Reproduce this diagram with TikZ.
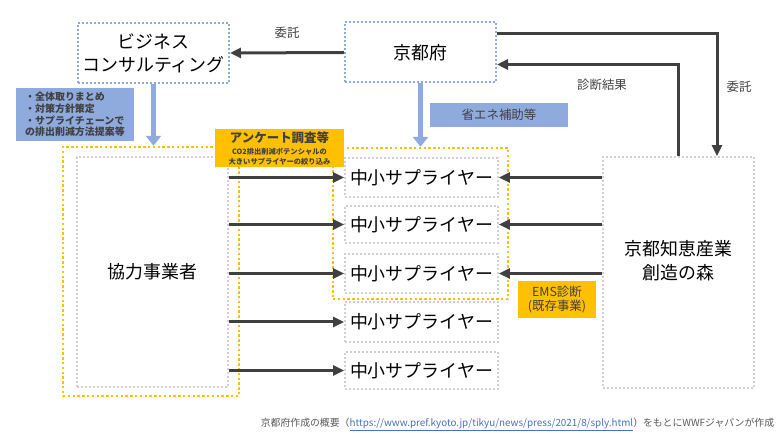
\documentclass[tikz,border=0pt]{standalone}
\usepackage{fontspec}
\setmainfont{Noto Sans CJK JP}
\usetikzlibrary{arrows.meta}
\definecolor{dotblue}{HTML}{8FAADC}
\definecolor{fillblue}{HTML}{8FAADC}
\definecolor{ylw}{HTML}{FFC000}
\definecolor{gry}{HTML}{D0D0D0}
\definecolor{dark}{HTML}{404040}
\definecolor{foot}{HTML}{595959}
\definecolor{urlblue}{HTML}{4472C4}
\begin{document}
\begin{tikzpicture}[x=1bp,y=-1bp,
  bluebox/.style={draw=dotblue, line width=2bp, dash pattern=on 2bp off 2bp,
    minimum width=151bp, minimum height=60bp, inner sep=0pt, align=center,
    font=\fontsize{18}{23}\selectfont},
  graybox/.style={draw=gry, line width=1.8bp, dash pattern=on 2bp off 2bp,
    minimum width=151bp, inner sep=0pt, align=center,
    font=\fontsize{18}{23}\selectfont},
  supbox/.style={graybox, minimum width=153bp},
  boxtext/.style={inner sep=0pt, align=center, font=\fontsize{18}{24}\selectfont},
  yregion/.style={draw=ylw, line width=2.4bp, dash pattern=on 2.4bp off 2.4bp, inner sep=0pt},
  bluelabel/.style={fill=fillblue, inner sep=0pt, text=dark},
  ylabel/.style={fill=ylw, inner sep=0pt, text=dark, align=center},
  darkarrow/.style={draw=dark, line width=3bp, -{Triangle[width=10bp,length=11bp]}},
  bluearrow/.style={draw=fillblue, line width=5bp, -{Triangle[width=15bp,length=10bp]}},
  smalltext/.style={text=dark, font=\fontsize{12.5}{15}\selectfont, inner sep=0pt}
]
\useasboundingbox (0,0) rectangle (780,438);

% yellow regions
\node[yregion, minimum width=176bp, minimum height=249bp] (yl) at (151,271.5) {};
\node[yregion, minimum width=175bp, minimum height=151bp] (yr) at (420.5,223.5) {};

% main boxes
\node[bluebox] (biz) at (153.5,53) {ビジネス\\コンサルティング};
\node[bluebox] (fu) at (420.5,52.5) {京都府};
\node[graybox, minimum height=230bp] (kyo) at (152.5,272) {協力事業者};
\node[graybox, minimum height=231bp] (mori) at (678.5,272.5) {};
\node[boxtext] (moritext) at ([yshift=12bp]mori.center) {京都知恵産業\\創造の森};

\node[supbox, minimum height=39bp] (s1) at (421.5,177.5) {中小サプライヤー};
\node[supbox, minimum height=37bp] (s2) at (421.5,224.5) {中小サプライヤー};
\node[supbox, minimum height=39bp] (s3) at (421.5,273.5) {中小サプライヤー};
\node[supbox, minimum height=40bp] (s4) at (421.5,322) {中小サプライヤー};
\node[supbox, minimum height=37bp] (s5) at (421.5,370.5) {中小サプライヤー};

% labels boxes
\node[bluelabel, minimum width=118bp, minimum height=53bp, align=left,
  font=\bfseries\fontsize{10}{11.8}\selectfont] (lb) at (75,114.5)
  {・全体取りまとめ\\・対策方針策定\\・サプライチェーンで\\の排出削減方法提案等};
\node[bluelabel, minimum width=138bp, minimum height=24bp,
  font=\fontsize{12.5}{15}\selectfont] (hojo) at (499,115) {省エネ補助等};
\node[ylabel, minimum width=129bp, minimum height=38bp,
  font=\bfseries\fontsize{7.3}{10}\selectfont] (enq) at (279.5,148)
  {{\fontsize{12.5}{14}\selectfont アンケート調査等}\\[2bp]CO2排出削減ポテンシャルの\\大きいサプライヤーの絞り込み};
\node[ylabel, minimum width=78bp, minimum height=37bp,
  font=\fontsize{12.5}{15}\selectfont] (ems) at (557,299.5) {EMS診断\\(既存事業)};

% arrows
\draw[darkarrow] (fu.west) -- (biz.east);
\node[smalltext] (t1) at (287,33) {委託};
\draw[darkarrow] ([yshift=-12bp]fu.north east) -| ([xshift=38.5bp]mori.north);
\node[smalltext] (t2) at (739,87) {委託};
\draw[darkarrow] ([xshift=-0.5bp]mori.north) |- ([yshift=-43bp]fu.north east);
\node[smalltext] (t3) at (602,85) {診断結果};

\draw[bluearrow] (biz.south) -- (biz.south |- yl.north);
\draw[bluearrow] (fu.south) -- (fu.south |- yr.north);

\foreach \s in {s1,s2,s3,s4,s5}{
  \draw[darkarrow] (kyo.east |- \s.west) -- (\s.west);
}
\foreach \s in {s1,s2,s3}{
  \draw[darkarrow] (mori.west |- \s.east) -- (\s.east);
}

% footer
\node[text=foot, font=\fontsize{9.9}{11}\selectfont, inner sep=0pt] (src) at (517.5,424)
  {京都府作成の概要（{\color{urlblue}\underline{https://www.pref.kyoto.jp/tikyu/news/press/2021/8/sply.html}}）をもとにWWFジャパンが作成};
\end{tikzpicture}
\end{document}
